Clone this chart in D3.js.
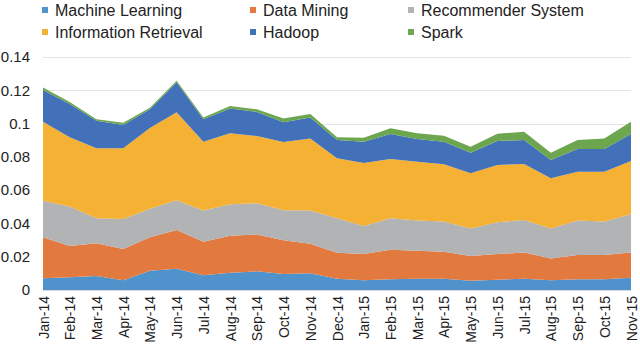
<!DOCTYPE html>
<html>
<head>
<meta charset="utf-8"/>
<script src="https://cdn.jsdelivr.net/npm/d3@7"></script>
<style>
    body { margin: 0; background: #ffffff; font-family: "Liberation Sans", Arial, sans-serif; }
    svg { display: block; }
    .grid line { stroke: #e4e4e4; }
    .axisY text, .axisX text { fill: #222222; }
</style>
</head>
<body>
<svg id="chart" width="640" height="352"></svg>
<script>

// months on the x axis
var months = ["Jan-14","Feb-14","Mar-14","Apr-14","May-14","Jun-14","Jul-14","Aug-14","Sep-14","Oct-14","Nov-14","Dec-14",
              "Jan-15","Feb-15","Mar-15","Apr-15","May-15","Jun-15","Jul-15","Aug-15","Sep-15","Oct-15","Nov-15"];

var seriesNames = ["Machine Learning","Data Mining","Recommender System","Information Retrieval","Hadoop","Spark"];

// values (each series on its own, stacked below)
var machineLearning = [0.0070,0.0076,0.0084,0.0058,0.0115,0.0128,0.0088,0.0104,0.0112,0.0096,0.0100,0.0068,
                       0.0058,0.0064,0.0068,0.0068,0.0056,0.0062,0.0068,0.0058,0.0064,0.0064,0.0074];
var dataMining = [0.0247,0.0188,0.0197,0.0188,0.0202,0.0233,0.0202,0.0222,0.0221,0.0203,0.0178,0.0156,
                  0.0158,0.0178,0.0168,0.0162,0.0148,0.0154,0.0158,0.0132,0.0146,0.0146,0.0152];
var recommender = [0.0220,0.0237,0.0150,0.0181,0.0171,0.0178,0.0187,0.0189,0.0188,0.0180,0.0199,0.0207,
                   0.0169,0.0189,0.0181,0.0181,0.0165,0.0191,0.0195,0.0179,0.0207,0.0201,0.0229];
var infoRetrieval = [0.0474,0.0417,0.0420,0.0424,0.0485,0.0529,0.0414,0.0427,0.0404,0.0410,0.0434,0.0360,
                     0.0378,0.0356,0.0354,0.0344,0.0332,0.0344,0.0336,0.0302,0.0294,0.0300,0.0320];
var hadoop = [0.0191,0.0200,0.0166,0.0141,0.0113,0.0180,0.0135,0.0148,0.0145,0.0119,0.0125,0.0110,
              0.0128,0.0151,0.0136,0.0136,0.0124,0.0144,0.0144,0.0110,0.0136,0.0136,0.0163];
var spark = [0.0014,0.0012,0.0009,0.0013,0.0009,0.0010,0.0010,0.0016,0.0016,0.0022,0.0022,0.0017,
             0.0024,0.0034,0.0035,0.0036,0.0036,0.0044,0.0050,0.0044,0.0054,0.0064,0.0073];

var yTicks = [0, 0.02, 0.04, 0.06, 0.08, 0.1, 0.12, 0.14];

var colors = ["#5093cc","#e27a3f","#b2b3b5","#f4b133","#4371b9","#6ca64f"];

var allSeries = [machineLearning, dataMining, recommender, infoRetrieval, hadoop, spark];

// table for d3.stack
var table = months.map(function(m, i) {
    var row = { month: m };
    seriesNames.forEach(function(s, k) { row[s] = allSeries[k][i]; });
    return row;
});

var svg = d3.select("#chart");

var x = d3.scalePoint().domain(months).range([43, 631]);
var y = d3.scaleLinear().domain([0, 0.14]).range([290, 57]);

//Gridlines
svg.append("g").attr("class", "grid")
    .selectAll("line").data(yTicks.slice(1)).enter()
    .append("line")
    .attr("x1", 43).attr("x2", 631)
    .attr("y1", function(d) { return Math.round(y(d)) + 0.5; })
    .attr("y2", function(d) { return Math.round(y(d)) + 0.5; });

//Areas
var stacked = d3.stack().keys(seriesNames)(table);
var area = d3.area()
    .x(function(d) { return x(d.data.month); })
    .y0(function(d) { return y(d[0]); })
    .y1(function(d) { return y(d[1]); });

svg.append("g").selectAll("path").data(stacked).enter()
    .append("path")
    .attr("fill", function(d, i) { return colors[i]; })
    .attr("d", area);

//Baseline
svg.append("line").attr("x1", 43).attr("x2", 631).attr("y1", 290.5).attr("y2", 290.5)
    .attr("stroke", "#d9d9d9");

//Y axis
var axY = d3.axisLeft(y).tickValues(yTicks).tickSize(0).tickPadding(0)
    .tickFormat(function(d) { return d === 0 ? "0" : String(+d.toFixed(2)); });
var gy = svg.append("g").attr("class", "axisY").attr("transform", "translate(30,0)").call(axY);
gy.select(".domain").remove();
gy.selectAll("text").attr("font-size", 15).attr("font-family", "Liberation Sans, Arial, sans-serif");

//X axis
var axX = d3.axisBottom(x).tickSize(0).tickPadding(0);
var gx = svg.append("g").attr("class", "axisX").attr("transform", "translate(0,296)").call(axX);
gx.select(".domain").remove();
gx.selectAll("text")
    .attr("font-size", 14)
    .attr("font-family", "Liberation Sans, Arial, sans-serif")
    .attr("text-anchor", "end")
    .attr("dy", null)
    .attr("y", 0)
    .attr("transform", "rotate(-90) translate(0,5)");

//Legend
var legendPos = [[42,10],[250,10],[408,10],[42,32],[250,32],[408,32]];
var legend = svg.append("g").selectAll("g").data(seriesNames).enter()
    .append("g")
    .attr("transform", function(d, i) { return "translate(" + legendPos[i][0] + "," + legendPos[i][1] + ")"; });
legend.append("rect").attr("x", 0).attr("y", -3).attr("width", 6).attr("height", 6)
    .attr("fill", function(d, i) { return colors[i]; });
legend.append("text").attr("x", 13).attr("y", 0).attr("dy", "0.35em")
    .attr("font-size", 16).attr("fill", "#222222")
    .text(function(d) { return d; });

</script>
</body>
</html>
